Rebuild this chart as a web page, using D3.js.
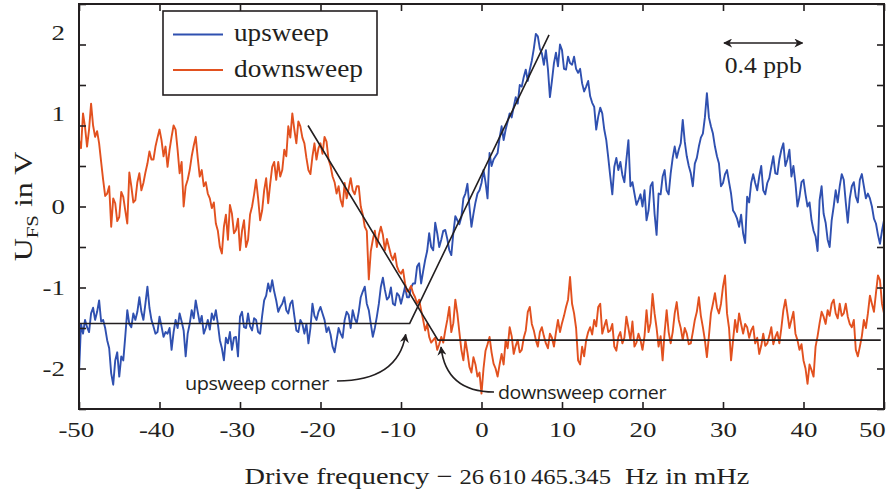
<!DOCTYPE html>
<html>
<head>
<meta charset="utf-8">
<script src="https://cdn.jsdelivr.net/npm/d3@7"></script>
<style>
  body { margin: 0; background: #fff; }
  svg { display: block; }
</style>
</head>
<body>
<svg id="chart" width="888" height="495"></svg>
<script>
// Sweep sampled every 0.25 mHz from -50 mHz to +50 mHz.
// "grid" arrays hold the samples at -50, -49.5, ... 50 mHz,
// "between" arrays hold the samples at -49.75, -49.25, ... 49.75 mHz.
const freqStart = -50;
const freqStep = 0.25;

// Upsweep U_FS in V
const upsweepGrid = [
  -2.06,-1.57,-1.49,-1.32,-1.40,-1.16,-1.40,-1.65,-2.06,-1.90,
  -2.10,-1.90,-1.28,-1.49,-1.40,-1.12,-1.40,-0.99,-1.40,-1.57,
  -1.36,-1.61,-1.57,-1.77,-1.40,-1.32,-1.53,-1.57,-1.28,-1.16,
  -1.44,-1.57,-1.40,-1.32,-1.28,-1.65,-1.90,-1.69,-1.77,-1.61,
  -1.36,-1.49,-1.32,-1.53,-1.40,-1.57,-1.16,-0.95,-0.91,-1.16,
  -1.24,-1.12,-1.32,-1.16,-1.53,-1.40,-1.57,-1.69,-1.20,-1.40,
  -1.24,-1.40,-1.49,-1.73,-1.65,-1.57,-1.40,-1.34,-1.28,-1.44,
  -1.12,-0.99,-1.28,-1.61,-1.36,-0.99,-1.03,-1.12,-1.20,-1.07,
  -1.20,-0.99,-1.12,-0.95,-0.74,-0.95,-0.66,-0.33,-0.54,-0.33,
  -0.41,-0.29,-0.54,-0.33,-0.17,-0.13,0.16,0.00,-0.09,0.16,
  0.29,0.30,0.66,0.58,0.66,0.99,0.95,1.15,1.23,1.27,
  1.48,1.69,1.69,1.95,2.10,1.89,1.93,1.35,1.77,1.73,
  1.93,1.69,1.77,1.85,1.65,1.52,1.48,1.36,1.23,1.11,
  1.15,0.82,0.37,0.49,0.45,0.39,0.58,0.25,0.16,0.08,
  0.00,-0.17,0.25,-0.09,0.16,0.37,0.20,0.41,0.74,0.70,
  1.07,0.62,0.41,0.53,0.74,0.90,1.40,0.99,0.74,0.53,
  0.29,0.45,0.16,-0.09,-0.25,-0.33,0.12,0.29,0.29,0.37,
  0.20,0.29,0.49,0.41,0.58,0.78,0.58,0.37,0.29,0.12,
  0.33,0.00,-0.17,-0.37,0.08,-0.09,-0.41,-0.17,0.20,0.25,
  0.33,-0.20,0.25,0.12,0.33,0.25,0.16,0.00,-0.21,-0.46,
  -0.17
];
const upsweepBetween = [
  -1.45,-1.40,-1.55,-1.25,-1.30,-1.42,-1.50,-1.75,-2.20,-1.80,
  -1.85,-1.60,-1.45,-1.32,-1.30,-1.30,-1.20,-1.25,-1.48,-1.55,
  -1.48,-1.55,-1.50,-1.55,-1.50,-1.42,-1.85,-1.45,-1.38,-1.30,
  -1.35,-1.50,-1.52,-1.40,-1.45,-1.75,-1.62,-1.55,-1.62,-1.85,
  -1.30,-1.50,-1.48,-1.38,-1.55,-1.35,-1.10,-1.05,-1.05,-1.30,
  -1.20,-1.28,-1.20,-1.35,-1.55,-1.45,-1.45,-1.50,-1.35,-1.30,
  -1.32,-1.55,-1.58,-1.80,-1.50,-1.62,-1.30,-1.50,-1.38,-1.30,
  -1.05,-1.20,-1.45,-1.50,-1.20,-0.88,-1.15,-1.00,-1.22,-1.10,
  -1.10,-1.12,-1.00,-0.95,-0.70,-0.80,-0.55,-0.50,-0.20,-0.50,
  -0.30,-0.40,-0.60,-0.12,-0.22,0.10,0.28,-0.25,0.05,0.20,
  0.45,0.10,0.50,0.62,0.85,0.82,1.05,1.10,1.35,1.50,
  1.60,1.55,1.80,2.13,1.95,1.75,1.70,1.55,1.90,2.00,
  1.70,1.85,1.75,1.70,1.70,1.42,1.55,1.28,0.95,1.22,
  0.95,0.60,0.15,0.60,0.55,0.30,0.82,0.30,0.02,0.15,
  0.20,-0.05,0.30,-0.35,0.15,0.45,0.15,0.60,0.60,0.78,
  0.80,0.50,0.25,0.60,0.85,1.10,1.10,0.90,0.62,0.25,
  0.40,0.30,-0.05,-0.15,-0.10,-0.45,0.05,0.40,0.20,0.50,
  0.15,0.35,0.62,0.40,0.70,0.50,0.70,0.50,0.00,0.30,
  0.15,0.05,-0.30,-0.55,0.25,-0.20,-0.50,0.00,0.05,0.40,
  0.05,0.10,0.30,0.05,0.40,0.10,0.10,-0.15,-0.35,-0.30
];

// Downsweep U_FS in V
const downsweepGrid = [
  0.82,1.15,0.74,1.27,0.86,0.78,0.33,0.16,-0.25,0.04,
  -0.13,0.12,-0.21,0.25,0.08,0.41,0.29,0.53,0.58,0.74,
  0.95,0.62,0.49,0.86,0.95,0.41,0.00,0.33,0.62,0.86,
  0.37,0.25,0.16,-0.02,-0.21,-0.50,-0.25,-0.41,-0.09,-0.29,
  -0.54,-0.17,-0.41,0.00,0.33,-0.17,0.20,0.04,0.49,0.33,
  0.37,0.70,0.99,1.15,0.78,0.99,0.78,0.45,0.62,0.58,
  0.78,0.86,0.58,0.37,0.16,0.08,0.29,0.22,0.20,0.25,
  0.00,-0.25,-0.90,-0.41,-0.50,-0.25,-0.54,-0.50,-0.66,-0.74,
  -0.83,-0.95,-1.03,-1.07,-1.20,-1.28,-1.53,-1.61,-1.65,-1.77,
  -1.61,-1.53,-1.24,-1.44,-1.32,-1.77,-1.65,-1.98,-1.86,-2.10,
  -2.31,-1.78,-1.61,-1.94,-2.10,-1.82,-1.65,-1.49,-1.82,-1.65,
  -1.77,-1.53,-1.24,-1.53,-1.73,-1.49,-1.69,-1.57,-1.73,-1.40,
  -1.44,-1.24,-0.87,-1.32,-1.90,-1.73,-1.65,-1.49,-1.40,-1.24,
  -1.57,-1.40,-1.53,-1.73,-1.61,-1.69,-1.36,-1.65,-1.73,-1.57,
  -1.77,-1.28,-1.44,-1.32,-1.73,-1.90,-1.28,-1.69,-1.32,-1.40,
  -1.65,-1.57,-1.69,-1.40,-1.12,-1.49,-1.86,-1.32,-1.07,-1.32,
  -0.99,-1.32,-1.90,-1.40,-1.32,-1.57,-1.49,-1.53,-1.69,-1.82,
  -1.57,-1.69,-1.49,-1.61,-1.69,-1.28,-1.32,-1.40,-1.57,-1.77,
  -1.90,-2.19,-2.02,-1.73,-1.44,-1.36,-1.28,-1.20,-1.32,-1.20,
  -1.32,-1.36,-1.49,-1.77,-1.73,-1.40,-1.32,-1.20,-1.07,-0.91,
  -1.32
];
const downsweepBetween = [
  0.72,0.98,0.95,1.00,0.93,0.55,0.13,0.25,0.10,-0.18,
  0.18,-0.05,0.42,0.05,0.30,0.20,0.42,0.68,0.58,0.85,
  0.82,0.74,0.70,1.00,0.70,0.55,0.25,0.45,0.75,0.60,
  0.45,0.30,0.10,0.05,-0.30,-0.58,-0.10,0.02,-0.33,-0.15,
  -0.30,-0.50,-0.10,0.15,0.10,-0.05,0.35,0.28,0.55,0.55,
  0.45,0.62,0.85,0.95,1.05,0.85,0.60,0.40,0.78,0.72,
  0.65,0.80,0.50,0.30,0.25,0.00,0.10,0.35,0.15,0.25,
  -0.10,-0.30,-0.55,-0.30,-0.35,-0.35,-0.40,-0.60,-0.58,-0.80,
  -0.78,-1.05,-0.98,-1.12,-1.15,-1.40,-1.45,-1.68,-1.62,-1.70,
  -1.68,-1.40,-1.55,-1.15,-1.55,-1.90,-1.80,-2.05,-1.95,-2.05,
  -2.00,-1.70,-1.80,-2.00,-1.95,-1.95,-1.75,-1.60,-1.72,-1.80,
  -1.62,-1.30,-1.45,-1.65,-1.55,-1.60,-1.75,-1.62,-1.55,-1.55,
  -1.35,-1.15,-1.20,-1.50,-1.95,-1.85,-1.55,-1.58,-1.48,-1.20,
  -1.48,-1.55,-1.45,-1.78,-1.55,-1.62,-1.50,-1.42,-1.68,-1.65,
  -1.60,-1.55,-1.08,-1.50,-1.60,-1.55,-1.55,-1.55,-1.18,-1.50,
  -1.50,-1.70,-1.55,-1.30,-1.35,-1.65,-1.60,-1.20,-1.25,-1.20,
  -0.85,-1.50,-1.65,-1.55,-1.45,-1.45,-1.62,-1.48,-1.62,-1.72,
  -1.72,-1.60,-1.70,-1.55,-1.50,-1.15,-1.50,-1.30,-1.65,-1.70,
  -2.00,-1.95,-2.10,-1.60,-1.30,-1.45,-1.35,-1.15,-1.38,-1.35,
  -1.20,-1.45,-1.40,-1.85,-1.60,-1.50,-1.10,-1.30,-0.85,-1.20
];

// Piecewise-linear corner fits (frequency in mHz, U_FS in V)
const upsweepFitFreq = [-50, -8.92, 8.39];
const upsweepFitU    = [-1.444, -1.444, 2.12];
const downsweepFitFreq = [-21.55, -5.40, 49.6];
const downsweepFitU    = [1.00, -1.65, -1.65];

// Axis ticks and labels
const xTickValues = [-50, -40, -30, -20, -10, 0, 10, 20, 30, 40, 50];
const yTickMarks  = [-2.5, -2, -1.5, -1, -0.5, 0, 0.5, 1, 1.5, 2, 2.5];
const yTickLabels = [-2, -1, 0, 1, 2];
const seriesNames = ["upsweep", "downsweep"];
const seriesColors = ["#2f50b0", "#e2511f"];

// Scale bar: 10 mHz corresponds to 0.4 ppb
const scaleBarFreq = [30, 40];
const scaleBarText = "0.4 ppb";

const svg = d3.select("#chart");
const serif = "'Liberation Serif', 'DejaVu Serif', serif";
const sans = "'Open Sans', 'DejaVu Sans', sans-serif";
const ink = "#231f20";
const glyphStretch = 1.28;   // wide serif face for numerals

const margin = { left: 79, right: 4, top: 4, bottom: 86 };
const W = 888, H = 495;
const x = d3.scaleLinear().domain([-50, 50]).range([margin.left, W - margin.right]);
const y = d3.scaleLinear().domain([-2.5, 2.5]).range([H - margin.bottom, margin.top]);

// Stretch a text horizontally (about its anchor) so it spans `target` px
function widen(sel, target) {
  const w = sel.node().getBBox().width;
  const tr = sel.attr("transform") || "";
  sel.attr("transform", `${tr} scale(${target / w},1)`);
}

const defs = svg.append("defs");
defs.append("clipPath").attr("id", "plotClip")
  .append("rect")
  .attr("x", x(-50)).attr("y", y(2.5))
  .attr("width", x(50) - x(-50)).attr("height", y(-2.5) - y(2.5));

defs.append("marker")
  .attr("id", "head").attr("viewBox", "0 0 10 10")
  .attr("refX", 9).attr("refY", 5)
  .attr("markerWidth", 9).attr("markerHeight", 9)
  .attr("markerUnits", "userSpaceOnUse")
  .attr("orient", "auto-start-reverse")
  .append("path").attr("d", "M0,0 L10,5 L0,10 L3,5 Z").attr("fill", ink);

// Signals: merge grid and in-between samples in frequency order
function samples(grid, between) {
  const pts = [];
  grid.forEach((v, i) => {
    pts.push([freqStart + 2 * i * freqStep, v]);
    if (i < between.length) pts.push([freqStart + (2 * i + 1) * freqStep, between[i]]);
  });
  return pts;
}
const line = d3.line().x(d => x(d[0])).y(d => y(d[1]));
const plot = svg.append("g").attr("clip-path", "url(#plotClip)");

[[upsweepGrid, upsweepBetween], [downsweepGrid, downsweepBetween]].forEach(([g, b], i) => {
  plot.append("path")
    .datum(samples(g, b))
    .attr("d", line)
    .attr("fill", "none")
    .attr("stroke", seriesColors[i])
    .attr("stroke-width", 1.9)
    .attr("stroke-linejoin", "round");
});

// Corner fits
[[upsweepFitFreq, upsweepFitU], [downsweepFitFreq, downsweepFitU]].forEach(([fs, us]) => {
  plot.append("path")
    .datum(fs.map((f, i) => [f, us[i]]))
    .attr("d", line)
    .attr("fill", "none")
    .attr("stroke", ink)
    .attr("stroke-width", 1.6);
});

// Axes: ticks point inward on all four sides
const axisG = svg.append("g");
const axBottom = axisG.append("g").attr("transform", `translate(0,${y(-2.5)})`)
  .call(d3.axisBottom(x).tickValues(xTickValues).tickSize(-7).tickPadding(13).tickFormat(d => String(d)));
axisG.append("g").attr("transform", `translate(0,${y(2.5)})`)
  .call(d3.axisTop(x).tickValues(xTickValues).tickSize(-7).tickFormat(""));
axisG.append("g").attr("transform", `translate(${x(-50)},0)`)
  .call(d3.axisLeft(y).tickValues(yTickMarks).tickSize(-7).tickFormat(""));
axisG.append("g").attr("transform", `translate(${x(50)},0)`)
  .call(d3.axisRight(y).tickValues(yTickMarks).tickSize(-7).tickFormat(""));

axisG.selectAll(".domain").remove();
axisG.selectAll(".tick line").attr("stroke", ink).attr("stroke-width", 1.6);

axBottom.selectAll(".tick text")
  .attr("fill", ink).attr("font-family", serif).attr("font-size", 21)
  .attr("text-anchor", d => d === 50 ? "end" : "middle")
  .attr("dx", d => d === 50 ? 1 : (d < 0 ? -2.5 : 0))
  .attr("transform", `scale(${glyphStretch},1)`);

// Y tick labels
svg.append("g").selectAll("text").data(yTickLabels).join("text")
  .attr("transform", d => `translate(${x(-50) - 14},${y(d) + (d > 0 ? -12 : 0)}) scale(${glyphStretch},1)`)
  .attr("dy", "0.34em")
  .attr("text-anchor", "end")
  .attr("fill", ink).attr("font-family", serif).attr("font-size", 21)
  .text(d => String(d));

// Frame
svg.append("rect")
  .attr("x", x(-50)).attr("y", y(2.5))
  .attr("width", x(50) - x(-50)).attr("height", y(-2.5) - y(2.5))
  .attr("fill", "none").attr("stroke", ink).attr("stroke-width", 2);

// Legend
const legendWidths = [95, 129];
const legend = svg.append("g").attr("transform", "translate(163,11)");
legend.append("rect").attr("width", 214).attr("height", 84)
  .attr("fill", "#fff").attr("stroke", ink).attr("stroke-width", 1.6);
seriesNames.forEach((name, i) => {
  const ly = 23.5 + i * 35.5;
  legend.append("line").attr("x1", 10).attr("x2", 60).attr("y1", ly).attr("y2", ly)
    .attr("stroke", seriesColors[i]).attr("stroke-width", 2);
  const t = legend.append("text").attr("transform", `translate(71,${ly + 6.5})`)
    .attr("font-family", serif).attr("font-size", 25).attr("fill", ink)
    .text(name);
  widen(t, legendWidths[i]);
});

// Scale bar
const sbY = 43;
svg.append("line")
  .attr("x1", x(scaleBarFreq[0]) + 1).attr("x2", x(scaleBarFreq[1]) - 1)
  .attr("y1", sbY).attr("y2", sbY)
  .attr("stroke", ink).attr("stroke-width", 1.6)
  .attr("marker-start", "url(#head)").attr("marker-end", "url(#head)");
const sbText = svg.append("text")
  .attr("transform", `translate(${(x(scaleBarFreq[0]) + x(scaleBarFreq[1])) / 2},73)`)
  .attr("text-anchor", "middle")
  .attr("font-family", serif).attr("font-size", 23).attr("fill", ink)
  .text(scaleBarText);
widen(sbText, 77);

// Corner annotations with curved arrows
const upCorner = [upsweepFitFreq[1], upsweepFitU[1]];
const downCorner = [downsweepFitFreq[1], downsweepFitU[1]];

const upNote = svg.append("text").attr("transform", "translate(185,390)")
  .attr("font-family", sans).attr("font-size", 18.5).attr("fill", ink)
  .attr("letter-spacing", -0.4)
  .text("upsweep corner");
widen(upNote, 145);
svg.append("path")
  .attr("d", `M337,381 Q398,381 ${x(upCorner[0]) - 4},${y(upCorner[1]) + 11}`)
  .attr("fill", "none").attr("stroke", ink).attr("stroke-width", 1.6)
  .attr("marker-end", "url(#head)");

const downNote = svg.append("text").attr("transform", "translate(498,399)")
  .attr("font-family", sans).attr("font-size", 18.5).attr("fill", ink)
  .attr("letter-spacing", -0.4)
  .text("downsweep corner");
widen(downNote, 169);
svg.append("path")
  .attr("d", `M494,392 Q446,392 ${x(downCorner[0]) + 3},${y(downCorner[1]) + 7}`)
  .attr("fill", "none").attr("stroke", ink).attr("stroke-width", 1.6)
  .attr("marker-end", "url(#head)");

// Axis titles
const xTitle = svg.append("text")
  .attr("transform", "translate(497,484)")
  .attr("text-anchor", "middle")
  .attr("font-family", serif).attr("font-size", 23).attr("fill", ink);
xTitle.append("tspan").text("Drive frequency ");
xTitle.append("tspan").text("\u2212 ");
xTitle.append("tspan").attr("font-size", 20).text("26\u2009610\u2009465.345");
xTitle.append("tspan").text("\u2002Hz in mHz");
widen(xTitle, 505);

const yTitle = svg.append("text")
  .attr("transform", `translate(32,${y(0)}) rotate(-90)`)
  .attr("text-anchor", "middle")
  .attr("font-family", serif).attr("font-size", 26).attr("fill", ink);
yTitle.append("tspan").text("U");
yTitle.append("tspan").attr("font-size", 17).attr("dy", 6).text("FS");
yTitle.append("tspan").attr("dy", -6).text(" in V");
widen(yTitle, 110);
</script>
</body>
</html>
